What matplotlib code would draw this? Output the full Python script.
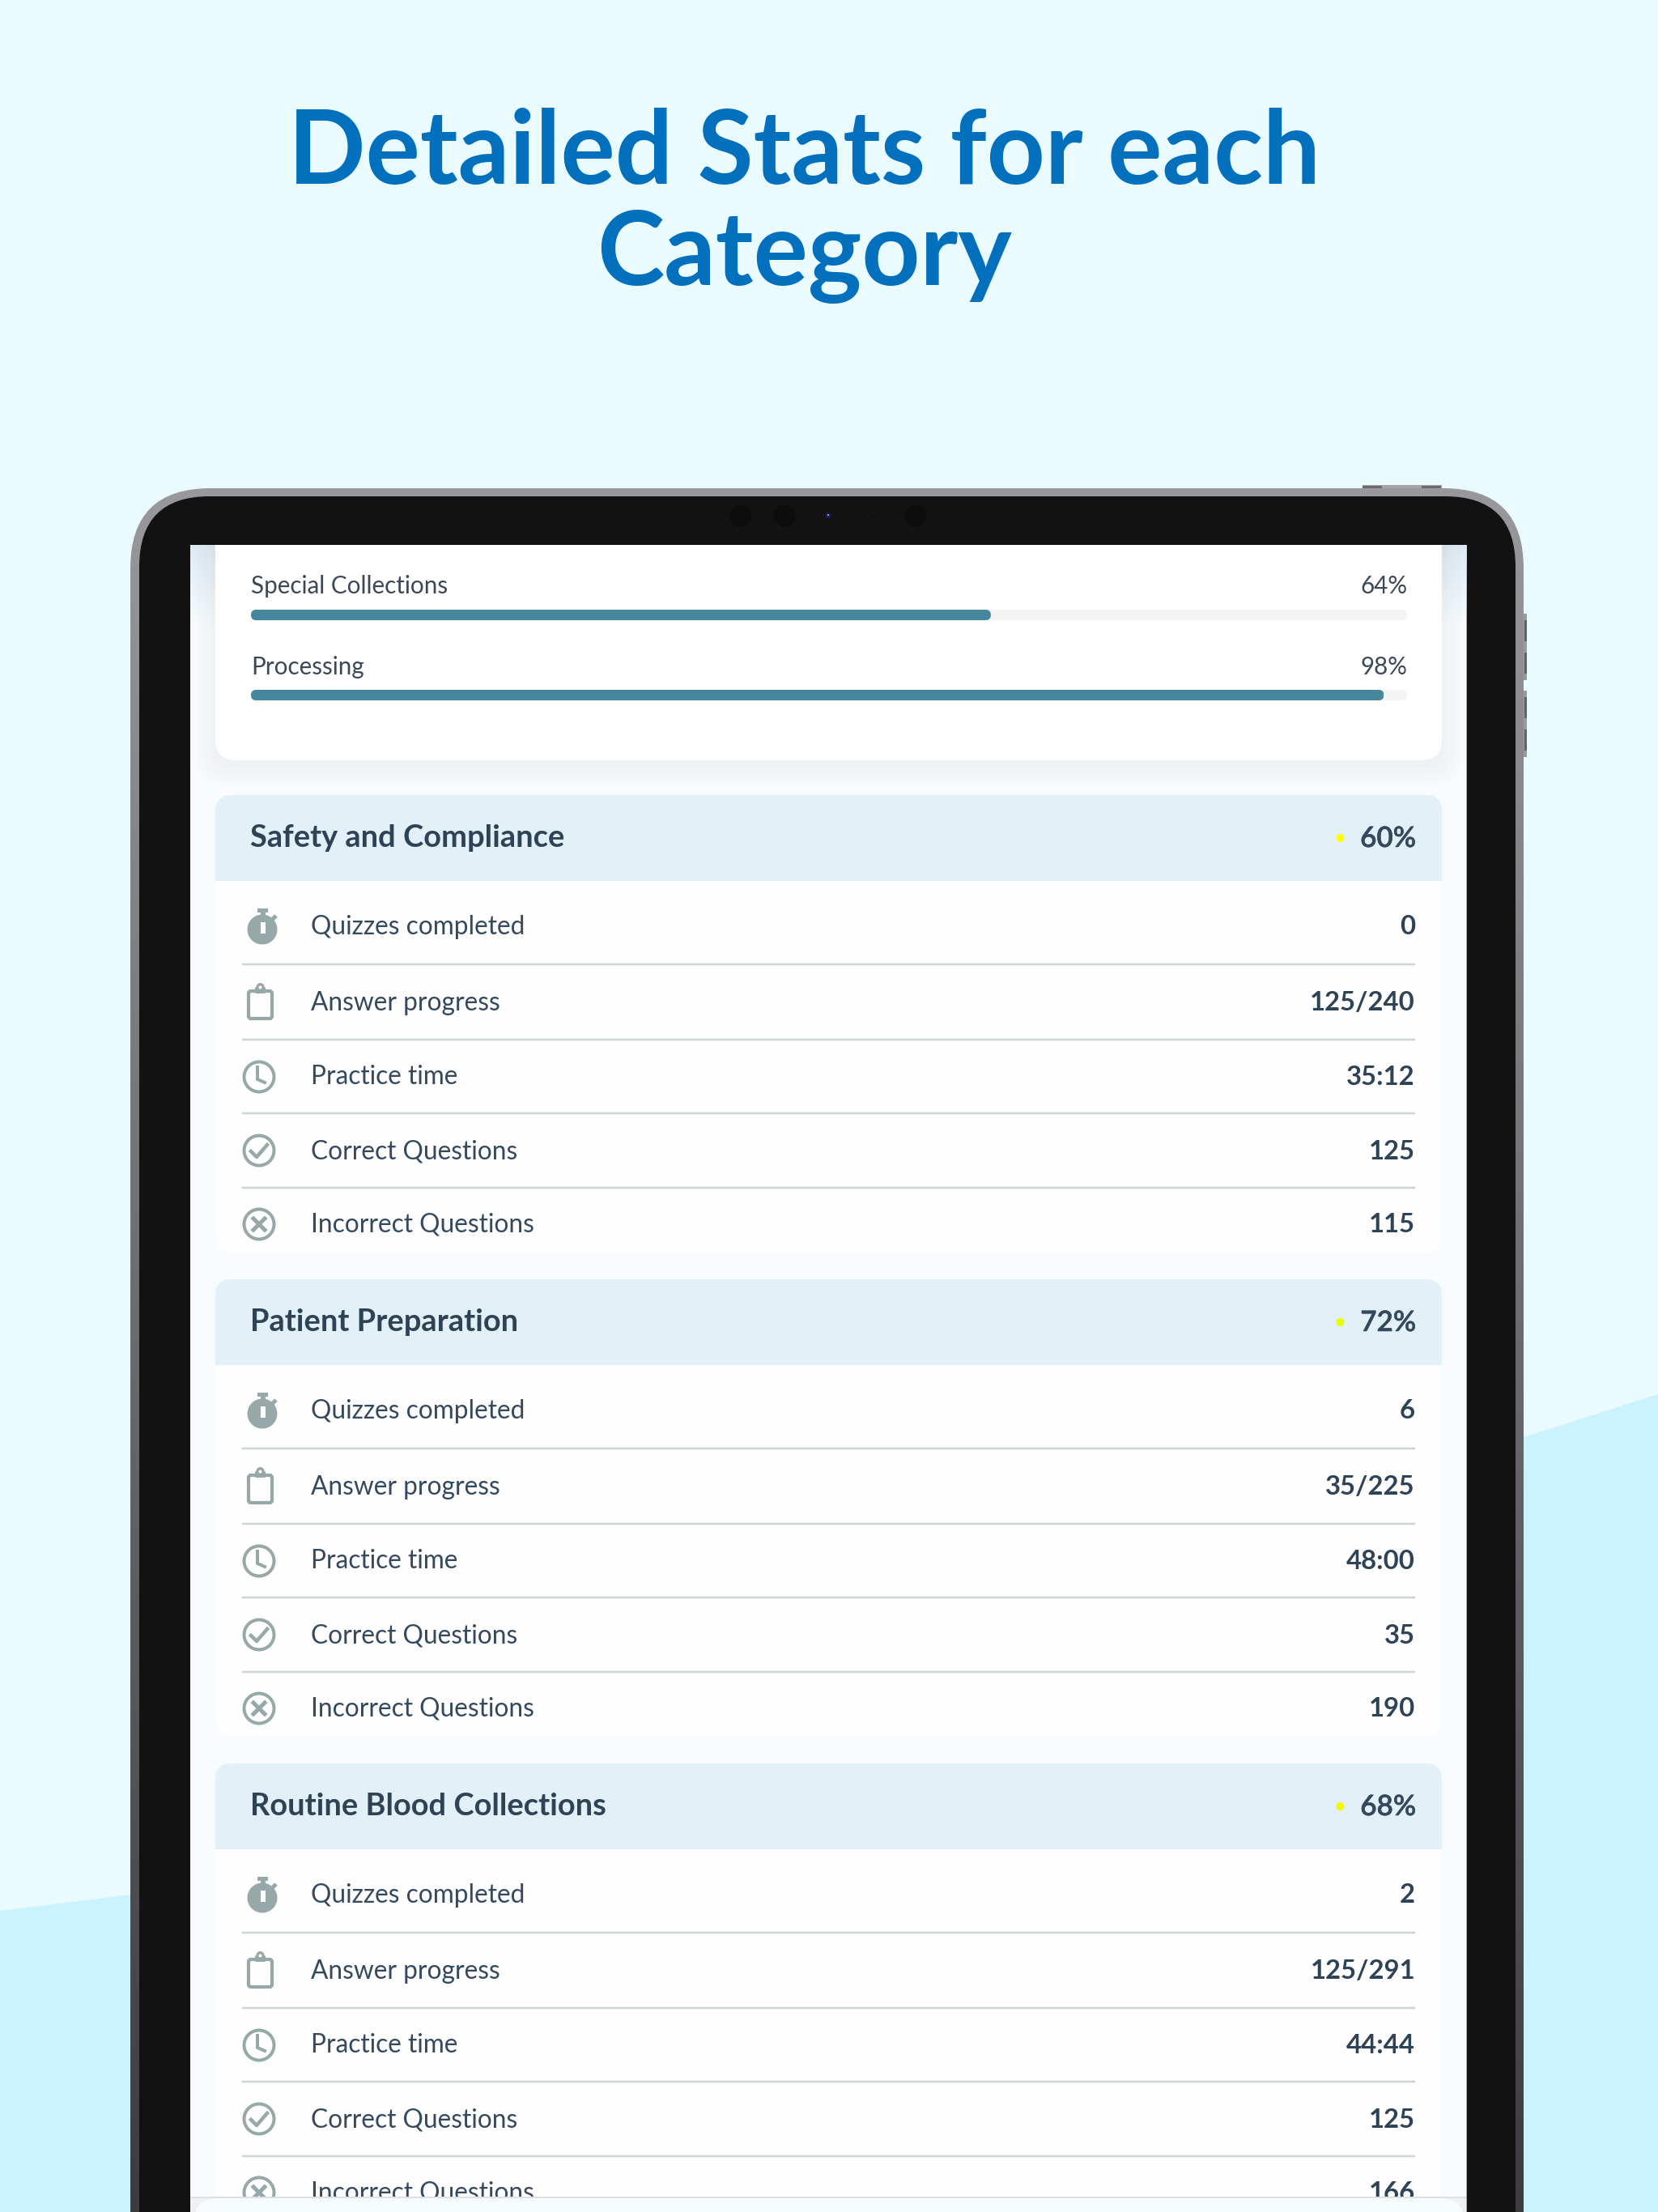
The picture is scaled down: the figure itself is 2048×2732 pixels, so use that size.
import numpy as np
import matplotlib
matplotlib.use("Agg")
import matplotlib.pyplot as plt
import matplotlib.patheffects as pe
from matplotlib.patches import FancyBboxPatch, Circle, Polygon, Rectangle

plt.rcParams['font.family'] = ['Lato', 'DejaVu Sans']

TITLE_LINES = ["Detailed Stats for each", "Category"]
BAR_LABELS = ["Special Collections", "Processing"]
BAR_VALUES = [64, 98]
CATEGORIES = ["Safety and Compliance", "Patient Preparation", "Routine Blood Collections"]
CATEGORY_PCT = [60, 72, 68]
DOT_COLORS = ["#ffff00", "#e4ff00", "#f6f600"]
ROW_LABELS = ["Quizzes completed", "Answer progress", "Practice time", "Correct Questions", "Incorrect Questions"]
QUIZZES = ["0", "6", "2"]
ANSWERS = ["125/240", "35/225", "125/291"]
TIMES = ["35:12", "48:00", "44:44"]
CORRECT = ["125", "35", "125"]
INCORRECT = ["115", "190", "166"]

W, H = 2048, 2732
BG = "#eafbff"; WEDGE = "#caf3ff"; SCREEN = "#f8fcff"; HEADER = "#e2f0f7"
BLUE = "#0370bd"; INK = "#34495e"; INK_B = "#2f4356"; ICON = "#97a8a8"; SEP = "#cbd6d5"

fig = plt.figure(figsize=(W/100, H/100), dpi=100, facecolor=BG)
ax = fig.add_axes([0, 0, 1, 1])
ax.set_xlim(0, W); ax.set_ylim(H, 0); ax.axis('off')
PX = 72/100

def rrect(x0, y0, x1, y1, r, **kw):
    p = FancyBboxPatch((x0+r, y0+r), x1-x0-2*r, y1-y0-2*r,
                       boxstyle=f"round,pad={r},rounding_size={r}", linewidth=kw.pop('lw', 0), **kw)
    ax.add_patch(p)
    return p

# background wedge
ax.add_patch(Polygon([(0, 2360), (161, 2340), (161, H), (0, H)], fc=WEDGE, ec='none', zorder=1))
ax.add_patch(Polygon([(1882, 1775), (W, 1722), (W, H), (1882, H)], fc=WEDGE, ec='none', zorder=1))

# device buttons
ax.add_patch(Rectangle((1683, 599), 98, 6, fc="#a5a5a8", ec='none', zorder=2))
for a, b in [(1683, 1707), (1756, 1780)]:
    ax.add_patch(Rectangle((a, 600), b-a, 3, fc="#6b6b6e", ec='none', zorder=2.1))
for y0, y1 in [(758, 840), (853, 935)]:
    ax.add_patch(Rectangle((1880, y0), 6, y1-y0, fc="#9a9a9e", ec='none', zorder=2))
    ax.add_patch(Rectangle((1883, y0+8), 3, 26, fc="#626266", ec='none', zorder=2.1))
    ax.add_patch(Rectangle((1883, y1-34), 3, 26, fc="#626266", ec='none', zorder=2.1))

# device body with vertical gradient
body = rrect(161, 603, 1882, 3000, 99, fc='none', ec='none', zorder=2)
grad = np.linspace(0, 1, 256)[:, None, None]
top_c = np.array(matplotlib.colors.to_rgb("#99999d")); bot_c = np.array(matplotlib.colors.to_rgb("#3c3c40"))
img = top_c*(1-grad) + bot_c*grad
im = ax.imshow(img, extent=(161, 1882, 2732, 603), aspect='auto', zorder=2.5, interpolation='bilinear')
im.set_clip_path(body)
rrect(172, 613, 1872, 3000, 87, fc="#121212", ec='none', zorder=3)
ax.set_xlim(0, W); ax.set_ylim(H, 0)

# sensor bar
for cx in (915, 969, 1131):
    ax.add_patch(Circle((cx, 637), 13.5, fc="#0d0d0d", ec='none', zorder=4))
ax.add_patch(Circle((1023, 637), 3.5, fc="#1a1a55", ec='none', zorder=4))
ax.add_patch(Circle((1023, 636), 1, fc="#b9b9d8", ec='none', zorder=4.1))
ax.add_patch(Circle((1079, 638), 1.4, fc="#0b0b0b", ec='none', zorder=4))

# screen
ax.add_patch(Rectangle((235, 673), 1577, 2100, fc=SCREEN, ec='none', zorder=5))
ax.add_patch(Rectangle((1811, 673), 1, 2100, fc="#a8b0b4", ec='none', zorder=5.05))
clip_screen = Rectangle((235, 673), 1577, 2100, transform=ax.transData)

# shading at the top of the side gutters
shade = np.zeros((128, 1, 4))
shade[..., :3] = matplotlib.colors.to_rgb("#dbe8f3")
shade[..., 3] = np.linspace(0.85, 0, 128)[:, None]
for a, b in [(235, 266), (1781, 1812)]:
    ax.imshow(shade, extent=(a, b, 770, 673), aspect='auto', zorder=5.1, interpolation='bilinear')
ax.set_xlim(0, W); ax.set_ylim(H, 0)

# top card with soft shadow
for e in range(30, 0, -3):
    s = rrect(266-e, 600-e, 1781+e, 939+6+e, 22+e, fc="#6c8ea8", ec='none', alpha=0.004, zorder=5.2)
    s.set_clip_path(clip_screen)
c = rrect(266, 600, 1781, 939, 26, fc="white", ec='none', zorder=5.5)
c.set_clip_path(clip_screen)

# progress bars on an axes whose x scale is percent
x0_bar, x1_bar = 310, 1738
ax_bar = fig.add_axes([x0_bar/W, 0, (x1_bar-x0_bar)/W, 1], zorder=2)
ax_bar.set_xlim(0, 100); ax_bar.set_ylim(H, 0); ax_bar.axis('off')
ax_bar.patch.set_alpha(0)
bar_y = [759.5, 858.5]
lab_y = [724, 824]
for lab, v, by, ly in zip(BAR_LABELS, BAR_VALUES, bar_y, lab_y):
    track = rrect(x0_bar, by-6.5, x1_bar, by+6.5, 6.5, fc="#f4f4f4", ec='none', zorder=6)
    rect = ax_bar.barh(by, v, height=13, left=0, color="#45889e", zorder=6.5)[0]
    clip = FancyBboxPatch((x0_bar+6.5, by), (x1_bar-x0_bar)*v/100-13, 0.01,
                          boxstyle="round,pad=6.5,rounding_size=6.5", transform=ax.transData)
    rect.set_clip_path(clip)
    ax.text(x0_bar, ly, lab, fontsize=21.3, color="#3b4858", va='center', ha='left', zorder=7)
    ax.text(x1_bar, ly, f"{v}%", fontsize=21.3, color="#3b4858", va='center', ha='right', zorder=7)

# icons
CLW = 4*PX
def stopwatch(cy):
    ax.add_patch(Circle((324, cy+5), 18.5, fc=ICON, ec='none', zorder=7))
    ax.add_patch(Rectangle((318, cy-21), 13, 5, fc=ICON, ec='none', zorder=7))
    ax.add_patch(Rectangle((321.5, cy-17), 6, 5, fc=ICON, ec='none', zorder=7))
    ax.plot([336, 341], [cy-7, cy-12], color=ICON, lw=5*PX, zorder=7, solid_capstyle='butt')
    ax.add_patch(Rectangle((322, cy-4), 6, 14, fc="white", ec='none', zorder=7.1))

def clipboard(cy):
    rrect(307, cy-15, 336, cy+19, 3, fc='none', ec=ICON, lw=4.2*PX, zorder=7)
    rrect(315, cy-20, 328, cy-12, 1.5, fc=ICON, ec='none', zorder=7.1)
    ax.add_patch(Circle((321.5, cy-20), 5, fc=ICON, ec='none', zorder=7.1))
    ax.add_patch(Circle((321.5, cy-19.5), 2, fc="white", ec='none', zorder=7.2))

def clock(cy):
    ax.add_patch(Circle((320, cy), 18.5, fc='none', ec=ICON, lw=CLW, zorder=7))
    ax.plot([318, 318, 327], [cy-12, cy+3, cy+7], color=ICON, lw=CLW, zorder=7, solid_joinstyle='miter')

def check(cy):
    ax.add_patch(Circle((320, cy), 18.5, fc='none', ec=ICON, lw=CLW, zorder=7))
    ax.plot([310, 317, 330], [cy+1, cy+8, cy-7], color=ICON, lw=4.5*PX, zorder=7)

def cross(cy):
    ax.add_patch(Circle((320, cy), 18.5, fc='none', ec=ICON, lw=CLW, zorder=7))
    for s in (1, -1):
        ax.plot([313, 327], [cy-7*s, cy+7*s], color=ICON, lw=5*PX, zorder=7)

ICONS = [stopwatch, clipboard, clock, check, cross]
# positions measured from a section's header top
TEXT_DY = [163, 257, 348, 440, 531]
ICON_DY = [161, 257, 348, 439, 530]
SEP_DY = [209, 302, 393, 485]
SECTION_TOPS = [982, 1580, 2178]
thick = [pe.withStroke(linewidth=0.5*PX, foreground=INK)]

for i, top in enumerate(SECTION_TOPS):
    card = rrect(266, top+60, 1781, top+564, 20, fc="#fefefe", ec='none', zorder=6)
    card.set_clip_path(clip_screen)
    hd = rrect(266, top, 1781, top+150, 20, fc=HEADER, ec='none', zorder=6.1)
    hd_clip = Rectangle((266, top), 1515, 106, transform=ax.transData)
    hd.set_clip_path(hd_clip)
    ax.text(309, top+53, CATEGORIES[i], fontsize=27.4, fontweight='bold', color=INK_B, va='center', ha='left', zorder=7)
    ax.text(1749, top+54, f"{CATEGORY_PCT[i]}%", fontsize=25.2, fontweight='semibold', color=INK, va='center', ha='right', zorder=7, path_effects=thick)
    ax.add_patch(Circle((1655.5, top+53), 5, fc=DOT_COLORS[i], ec='none', zorder=7))
    values = [QUIZZES[i], ANSWERS[i], TIMES[i], CORRECT[i], INCORRECT[i]]
    for lab, val, dy, idy, draw in zip(ROW_LABELS, values, TEXT_DY, ICON_DY, ICONS):
        ax.text(384, top+dy, lab, fontsize=22.8, color=INK, va='center', ha='left', zorder=7)
        ax.text(1748, top+dy, val, fontsize=23.7, fontweight='bold', color=INK_B, va='center', ha='right', zorder=7)
        draw(top+idy)
    for dy in SEP_DY:
        ax.plot([299, 1748], [top+dy, top+dy], color=SEP, lw=2.5*PX, zorder=6.5, solid_capstyle='butt')

# bottom panel over the screen
ax.add_patch(Rectangle((235, 2714), 1576, 20, fc="#eef0f1", ec='none', zorder=8))
ax.add_patch(Rectangle((235, 2713), 1576, 2, fc="#dde1e3", ec='none', zorder=8.05))
rrect(240, 2715, 1808, 2800, 28, fc="#f6fbfd", ec='none', zorder=8.1)

# title
for line, y in zip(TITLE_LINES, (227, 352)):
    ax.text(993.5, y, line, fontsize=90.5, fontweight='bold', color=BLUE, ha='center', va='baseline', zorder=3)

ax.set_xlim(0, W); ax.set_ylim(H, 0)
fig.savefig("out.png", dpi=100, facecolor=BG)
